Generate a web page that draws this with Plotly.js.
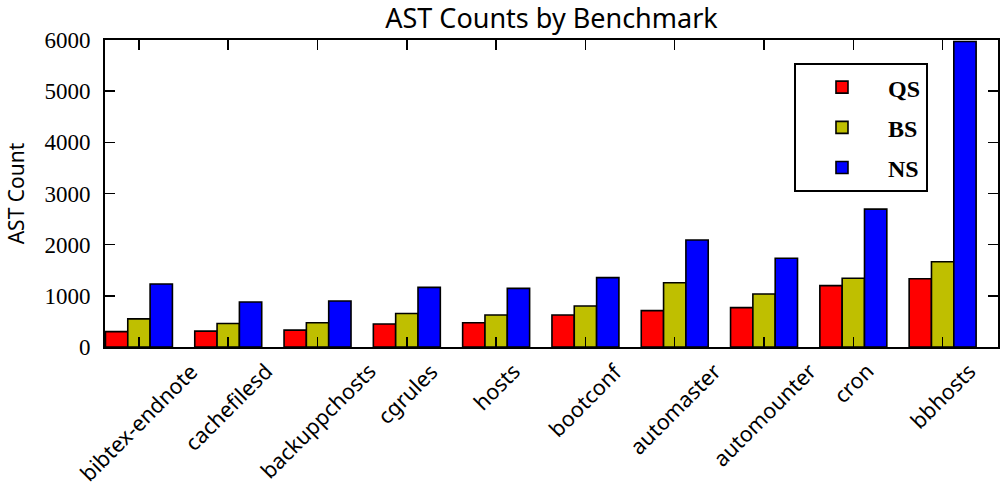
<!DOCTYPE html>
<html>
<head>
<meta charset="utf-8">
<script src="https://cdn.plot.ly/plotly-3.0.1.min.js"></script>
<style>html,body{margin:0;padding:0;background:#fff;}#chart{width:1000px;height:491px;}</style>
</head>
<body>
<div id="chart"></div>
<script>
var categories = ["bibtex-endnote", "cachefilesd", "backuppchosts", "cgrules", "hosts", "bootconf", "automaster", "automounter", "cron", "bbhosts"];
var qsValues = [300, 310, 330, 450, 475, 625, 710, 770, 1200, 1335];
var bsValues = [550, 460, 475, 655, 625, 800, 1255, 1035, 1345, 1665];
var nsValues = [1230, 880, 900, 1165, 1145, 1355, 2090, 1735, 2695, 5970];
var seriesNames = ["QS", "BS", "NS"];
var seriesColors = ["#ff0000", "#bfbf00", "#0000ff"];
var yTickVals = [0, 1000, 2000, 3000, 4000, 5000, 6000];

var sansFont = "'Noto Sans', 'Open Sans', sans-serif";
var serifFont = "'Liberation Serif', 'DejaVu Serif', serif";

var seriesValues = [qsValues, bsValues, nsValues];
var traces = seriesValues.map(function (vals, i) {
  return {
    type: "bar",
    name: seriesNames[i],
    x: categories,
    y: vals,
    legendgroup: seriesNames[i],
    marker: { color: seriesColors[i], line: { color: "#000", width: 1.6 } },
    hoverinfo: "x+y+name"
  };
});

var annotations = categories.map(function (c) {
  return {
    x: c, xref: "x", y: 0, yref: "paper",
    xanchor: "center", yanchor: "top",
    yshift: -7,
    textangle: -45,
    showarrow: false,
    text: c,
    font: { family: sansFont, size: 21.5, color: "#000" }
  };
});

var layout = {
  width: 1000, height: 491,
  paper_bgcolor: "#fff", plot_bgcolor: "#fff",
  margin: { l: 105, r: 2, t: 40, b: 144, pad: 0 },
  barmode: "group",
  bargap: 0.25,
  bargroupgap: 0,
  title: {
    text: "AST Counts by Benchmark",
    font: { family: sansFont, size: 27, color: "#000" },
    x: 0.5515, xanchor: "center", y: 0.962, yanchor: "middle"
  },
  xaxis: {
    type: "category",
    range: [-0.38, 9.62],
    showticklabels: false,
    ticks: "inside", ticklen: 10, tickwidth: 1.5, tickcolor: "#000",
    showline: true, linecolor: "#000", linewidth: 2, mirror: "ticks",
    showgrid: false, zeroline: false
  },
  yaxis: {
    range: [0, 6000],
    tickvals: yTickVals,
    ticktext: yTickVals.map(String),
    ticks: "inside", ticklen: 10, tickwidth: 1.5, tickcolor: "#000",
    showline: true, linecolor: "#000", linewidth: 2, mirror: "ticks",
    showgrid: false, zeroline: false,
    tickfont: { family: serifFont, size: 23, color: "#000" },
    ticklabelstandoff: 8,
    title: { text: "AST Count", font: { family: sansFont, size: 21, color: "#000" }, standoff: 14 }
  },
  legend: {
    x: 0.9216, xanchor: "right", y: 0.925, yanchor: "top",
    bgcolor: "#fff", bordercolor: "#000", borderwidth: 2,
    font: { family: serifFont, size: 24, color: "#000", weight: "bold" },
    traceorder: "grouped", tracegroupgap: 6,
    itemwidth: 82
  },
  annotations: annotations,
  showlegend: true
};

Plotly.newPlot("chart", traces, layout, { displayModeBar: false, staticPlot: true });
</script>
</body>
</html>
